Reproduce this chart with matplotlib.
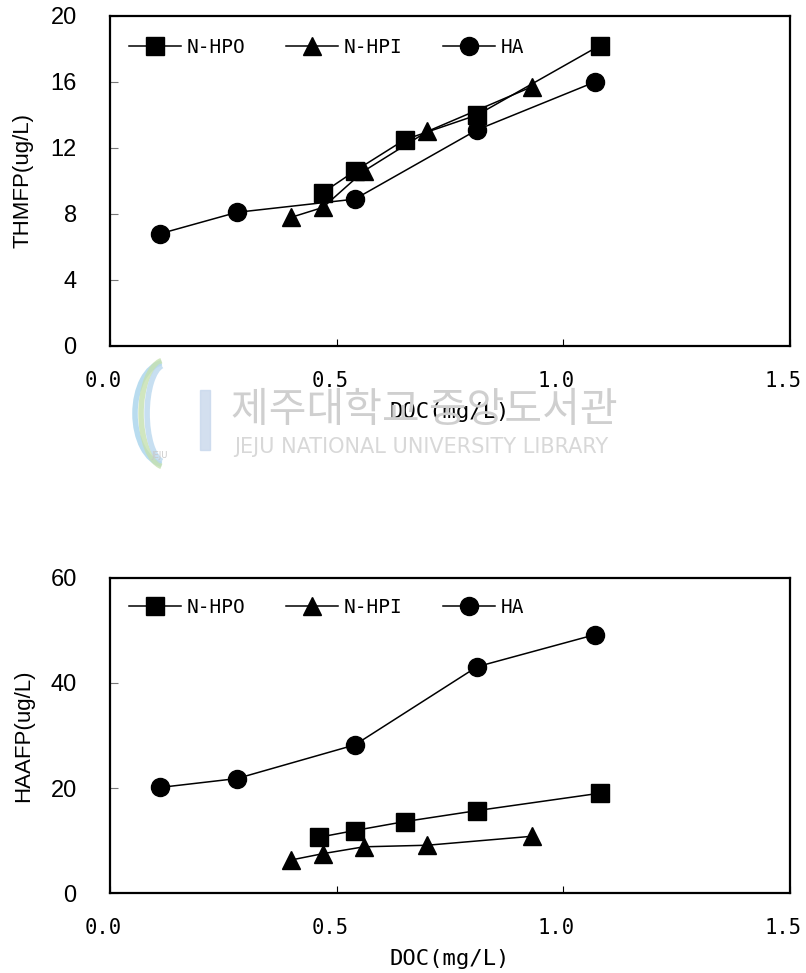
import matplotlib
matplotlib.use("Agg")
import matplotlib.pyplot as plt
import matplotlib.transforms as mtransforms
from matplotlib.patches import Arc

plt.rcParams['font.family'] = ['Noto Sans CJK KR', 'DejaVu Sans']

# ---- data: THMFP ----
thm_hpo_x = [0.47, 0.54, 0.65, 0.81, 1.08]
thm_hpo_y = [9.3, 10.6, 12.5, 14.0, 18.2]
thm_hpi_x = [0.40, 0.47, 0.56, 0.70, 0.93]
thm_hpi_y = [7.8, 8.4, 10.6, 13.0, 15.7]
thm_ha_x = [0.11, 0.28, 0.54, 0.81, 1.07]
thm_ha_y = [6.8, 8.1, 8.9, 13.1, 16.0]

# ---- data: HAAFP ----
haa_hpo_x = [0.46, 0.54, 0.65, 0.81, 1.08]
haa_hpo_y = [10.6, 11.9, 13.6, 15.7, 19.0]
haa_hpi_x = [0.40, 0.47, 0.56, 0.70, 0.93]
haa_hpi_y = [6.3, 7.5, 8.8, 9.1, 10.8]
haa_ha_x = [0.11, 0.28, 0.54, 0.81, 1.07]
haa_ha_y = [20.1, 21.8, 28.2, 43.1, 49.2]

series_labels = ['N-HPO', 'N-HPI', 'HA']
x_ticks = [0.0, 0.5, 1.0, 1.5]
x_ticklabels = ['0.0', '0.5', '1.0', '1.5']
thm_yticks = [0, 4, 8, 12, 16, 20]
haa_yticks = [0, 20, 40, 60]

fig = plt.figure(figsize=(8.06, 9.73), dpi=100)
ax1 = fig.add_axes([0.1365, 0.6444, 0.8435, 0.3392])
ax2 = fig.add_axes([0.1365, 0.0822, 0.8435, 0.3238])

# watermark
wm_color = '#cfcfcf'
fig.text(0.286, 0.5786, '제주대학교 중앙도서관', fontsize=29.5, color=wm_color,
         ha='left', va='center', zorder=0)
fig.text(0.291, 0.5406, 'JEJU NATIONAL UNIVERSITY LIBRARY', fontsize=15,
         color='#d8d8d8', ha='left', va='center', family='DejaVu Sans', zorder=0)
for c, w, h in [('#a8d4ec', 0.075, 0.105), ('#c5e0b0', 0.060, 0.11), ('#b9d7ee', 0.045, 0.10)]:
    arc = Arc((0.205, 0.575), w, h, angle=0, theta1=95, theta2=265,
              transform=fig.transFigure, color=c, lw=4, alpha=0.8)
    fig.add_artist(arc)
fig.text(0.198, 0.532, 'JEJU', fontsize=6, color='#c8c8c8', ha='center', va='center',
         family='DejaVu Sans')
fig.patches.append(plt.Rectangle((0.248, 0.537), 0.012, 0.062, transform=fig.transFigure,
                                 color='#c8d8ec', alpha=0.8))

mk = dict(color='black', lw=1.1, markersize=13, markeredgecolor='black',
          markerfacecolor='black')
shift = mtransforms.ScaledTranslation(-5 / 72, 0, fig.dpi_scale_trans)

def style(ax, yticks, ylim, ylabel, leg_y):
    ax.set_xlim(0, 1.5)
    ax.set_ylim(*ylim)
    ax.set_xticks(x_ticks)
    ax.set_xticklabels(x_ticklabels, family='DejaVu Sans Mono')
    ax.set_yticks(yticks)
    ax.set_yticklabels([str(v) for v in yticks], family='Liberation Sans')
    ax.tick_params(axis='x', direction='in', length=5, width=0.8, pad=18, labelsize=14.8)
    ax.tick_params(axis='y', direction='in', length=6, width=0.8, color='#777777',
                   pad=24, labelsize=17)
    for lab in ax.get_xticklabels():
        lab.set_transform(lab.get_transform() + shift)
    for s in ax.spines.values():
        s.set_linewidth(1.6)
    ax.set_ylabel(ylabel, fontsize=16, family='Liberation Sans', labelpad=12)
    ax.set_xlabel('DOC(mg/L)', fontsize=16, family='DejaVu Sans Mono', labelpad=8)
    ax.legend(loc='upper left', ncol=3, frameon=False,
              prop={'family': 'DejaVu Sans Mono', 'size': 14},
              handlelength=2.7, columnspacing=2.1, handletextpad=0.26,
              borderaxespad=0.0, bbox_to_anchor=(0.016, leg_y))

ax1.plot(thm_hpo_x, thm_hpo_y, marker='s', label=series_labels[0], **mk)
ax1.plot(thm_hpi_x, thm_hpi_y, marker='^', label=series_labels[1], **mk)
ax1.plot(thm_ha_x, thm_ha_y, marker='o', label=series_labels[2], **mk)
style(ax1, thm_yticks, (0, 20), 'THMFP(ug/L)', 0.958)

ax2.plot(haa_hpo_x, haa_hpo_y, marker='s', label=series_labels[0], **mk)
ax2.plot(haa_hpi_x, haa_hpi_y, marker='^', label=series_labels[1], **mk)
ax2.plot(haa_ha_x, haa_ha_y, marker='o', label=series_labels[2], **mk)
style(ax2, haa_yticks, (0, 60), 'HAAFP(ug/L)', 0.961)

for ax in (ax1, ax2):
    ax.set_facecolor('none')

fig.savefig('out.png', dpi=100)
